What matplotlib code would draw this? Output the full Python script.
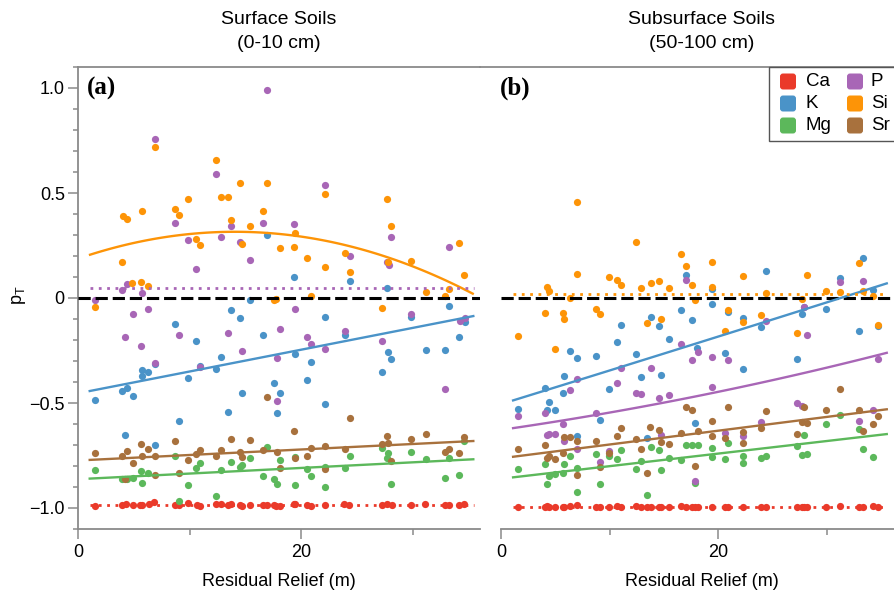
import numpy as np
import matplotlib
matplotlib.use("Agg")
import matplotlib.pyplot as plt
from matplotlib.patches import Rectangle, FancyBboxPatch
from matplotlib.ticker import FixedLocator, MultipleLocator

plt.rcParams['font.family'] = ['Liberation Sans', 'DejaVu Sans']
plt.rcParams['mathtext.fontset'] = 'custom'
plt.rcParams['mathtext.rm'] = 'Liberation Sans'
plt.rcParams['mathtext.it'] = 'Liberation Sans'

# ---------------- data ----------------
elements = ['Ca', 'K', 'Mg', 'P', 'Si', 'Sr']
colors = {'Ca': '#ea3a2a', 'K': '#4a93c8', 'Mg': '#5cb85b',
          'P': '#a866b6', 'Si': '#fd9407', 'Sr': '#a8713d'}

panel_titles = [('Surface Soils', '(0-10 cm)'), ('Subsurface Soils', '(50-100 cm)')]
panel_labels = ['(a)', '(b)']
xlabel = 'Residual Relief (m)'
ytick_vals = [-1.0, -0.5, 0.0, 0.5, 1.0]
ytick_labels = ['\u22121.0', '\u22120.5', '0', '0.5', '1.0']
xtick_vals = [0, 20]
xtick_labels = ['0', '20']

# Panel (a): surface soils
ca_a_x = [1.52, 3.98, 4.30, 4.90, 5.56, 5.77, 6.33, 6.85, 8.73, 9.06, 9.90, 10.64, 10.94,
          12.38, 12.82, 13.42, 13.72, 14.53, 14.74, 15.42, 16.59, 16.98, 17.58, 17.79, 18.11,
          19.34, 19.43, 20.57, 20.87, 22.18, 23.88, 24.34, 27.27, 27.68, 28.13, 29.84, 31.15,
          32.95, 33.27, 34.20, 34.60]
ca_a_y = [-0.992, -0.985, -0.983, -0.988, -0.984, -0.986, -0.980, -0.970, -0.986, -0.984, -0.975,
          -0.986, -0.990, -0.980, -0.982, -0.985, -0.983, -0.986, -0.990, -0.985, -0.984, -0.986,
          -0.988, -0.989, -0.990, -0.983, -0.982, -0.988, -0.990, -0.985, -0.982, -0.986, -0.988,
          -0.983, -0.984, -0.988, -0.983, -0.988, -0.987, -0.984, -0.982]
k_a = [(16.98, 0.302), (15.46, -0.010), (13.75, -0.057), (14.53, -0.097), (8.73, -0.122),
       (10.61, -0.203), (16.59, -0.178), (12.86, -0.279), (12.41, -0.337), (10.97, -0.324),
       (9.87, -0.381), (5.74, -0.343), (5.74, -0.371), (6.31, -0.351), (6.90, -0.316),
       (1.55, -0.487), (3.98, -0.441), (4.36, -0.430), (4.93, -0.467), (14.74, -0.451),
       (9.06, -0.587), (13.42, -0.544), (4.19, -0.651), (6.90, -0.702), (17.58, -0.403),
       (18.09, -0.454), (17.85, -0.548), (19.40, 0.102), (24.40, 0.081), (27.68, 0.049),
       (22.18, -0.089), (29.84, -0.089), (23.90, -0.178), (19.43, -0.265), (20.90, -0.303),
       (20.57, -0.390), (22.18, -0.506), (27.23, -0.352), (27.84, -0.256), (28.10, -0.290),
       (31.18, -0.249), (32.95, -0.249), (33.24, -0.038), (34.20, -0.187), (34.71, -0.113)]
mg_a = [(1.55, -0.819), (3.98, -0.863), (4.36, -0.863), (4.93, -0.859), (5.68, -0.824),
        (5.74, -0.879), (6.31, -0.832), (8.73, -0.752), (9.06, -0.965), (9.87, -0.892),
        (10.61, -0.808), (10.97, -0.784), (12.41, -0.944), (12.86, -0.817), (13.75, -0.783),
        (14.53, -0.803), (14.74, -0.795), (15.46, -0.762), (16.59, -0.846), (16.98, -0.710),
        (17.58, -0.863), (17.85, -0.887), (18.09, -0.770), (19.43, -0.756), (19.43, -0.892),
        (20.57, -0.816), (20.90, -0.846), (22.18, -0.806), (22.18, -0.900), (23.90, -0.811),
        (24.40, -0.751), (27.23, -0.716), (27.68, -0.760), (27.84, -0.740), (28.10, -0.886),
        (29.84, -0.733), (31.18, -0.767), (32.95, -0.857), (33.24, -0.762), (34.20, -0.843),
        (34.65, -0.681)]
p_a = [(16.95, 0.990), (6.90, 0.756), (12.38, 0.590), (8.73, 0.359), (9.87, 0.275),
       (10.61, 0.138), (12.86, 0.290), (13.75, 0.344), (14.53, 0.268), (15.46, 0.179),
       (16.59, 0.356), (4.36, 0.068), (3.98, 0.038), (5.74, 0.025), (1.55, -0.010),
       (4.93, -0.078), (6.31, -0.052), (4.19, -0.184), (5.68, -0.230), (6.90, -0.308),
       (9.06, -0.176), (10.97, -0.330), (13.42, -0.165), (14.74, -0.251), (18.09, -0.149),
       (17.85, -0.287), (17.85, -0.492), (22.18, 0.540), (19.40, 0.354), (24.40, 0.202),
       (27.74, 0.170), (27.86, 0.157), (28.10, 0.290), (33.24, 0.244), (19.43, -0.051),
       (20.57, -0.187), (20.90, -0.217), (22.18, -0.244), (23.90, -0.159), (27.23, -0.205),
       (29.84, -0.076), (32.95, -0.432), (34.30, -0.110), (34.71, -0.097)]
si_a = [(6.88, 0.717), (4.00, 0.392), (4.36, 0.375), (5.74, 0.416), (3.98, 0.170),
        (4.87, 0.070), (5.68, 0.075), (6.31, 0.059), (1.55, -0.044), (8.73, 0.424),
        (9.06, 0.394), (9.87, 0.473), (10.61, 0.279), (10.97, 0.252), (12.41, 0.656),
        (12.83, 0.483), (13.42, 0.483), (13.72, 0.373), (14.53, 0.548), (14.74, 0.257),
        (15.46, 0.344), (16.62, 0.416), (16.98, 0.549), (18.09, 0.240), (17.60, -0.010),
        (17.80, -0.006), (19.43, 0.311), (19.37, 0.244), (20.57, 0.192), (20.90, 0.011),
        (22.18, 0.497), (22.18, 0.149), (23.90, 0.216), (24.40, 0.124), (27.23, -0.049),
        (27.68, 0.471), (28.10, 0.341), (27.84, 0.170), (29.84, 0.178), (31.18, 0.027),
        (32.95, 0.010), (33.24, 0.044), (34.20, 0.260), (34.65, 0.108)]
sr_a = [(1.55, -0.737), (3.98, -0.754), (4.36, -0.727), (4.93, -0.786), (5.68, -0.697),
        (5.74, -0.751), (6.31, -0.717), (6.90, -0.752), (4.19, -0.863), (6.90, -0.843),
        (8.73, -0.681), (9.06, -0.833), (9.87, -0.771), (10.61, -0.741), (10.97, -0.724),
        (12.41, -0.752), (12.83, -0.722), (13.75, -0.670), (14.53, -0.732), (14.74, -0.759),
        (15.46, -0.676), (16.59, -0.722), (16.98, -0.470), (17.85, -0.732), (18.09, -0.811),
        (19.40, -0.635), (19.43, -0.762), (20.57, -0.754), (20.90, -0.714), (22.18, -0.705),
        (22.18, -0.816), (23.90, -0.717), (24.40, -0.573), (27.23, -0.695), (27.68, -0.656),
        (27.84, -0.692), (28.10, -0.778), (29.84, -0.670), (31.18, -0.648), (32.95, -0.735),
        (33.24, -0.721), (34.20, -0.740), (34.65, -0.660)]

# Panel (b): subsurface soils
ca_b_x = [1.60, 4.06, 4.24, 4.42, 4.98, 5.75, 5.81, 6.36, 6.97, 8.76, 9.12, 9.92, 10.69, 11.03,
          12.47, 12.87, 13.46, 13.80, 14.56, 14.78, 15.51, 16.62, 17.02, 17.63, 17.85, 18.16,
          19.48, 20.65, 20.95, 22.27, 23.93, 24.42, 27.31, 27.77, 27.93, 28.18, 29.92, 31.24,
          32.99, 33.33, 34.26, 34.72]
ca_b_y = [-0.996, -0.994, -0.992, -0.994, -0.995, -0.994, -0.993, -0.992, -0.988, -0.994,
          -0.993, -0.994, -0.992, -0.994, -0.991, -0.993, -0.994, -0.993, -0.995, -0.994,
          -0.995, -0.992, -0.993, -0.994, -0.995, -0.994, -0.993, -0.996, -0.995, -0.994,
          -0.996, -0.993, -0.995, -0.994, -0.993, -0.994, -0.995, -0.992, -0.995, -0.993,
          -0.990, -0.994]
k_b = [(17.02, 0.110), (16.62, -0.057), (17.63, -0.105), (13.80, -0.089), (14.56, -0.132),
       (11.03, -0.127), (10.69, -0.210), (15.51, -0.195), (6.36, -0.251), (6.97, -0.287),
       (8.76, -0.275), (12.47, -0.265), (12.87, -0.376), (14.78, -0.368), (5.81, -0.370),
       (9.92, -0.433), (4.06, -0.430), (5.75, -0.454), (4.42, -0.494), (4.98, -0.533),
       (4.24, -0.533), (1.60, -0.527), (9.12, -0.581), (6.97, -0.657), (13.46, -0.665),
       (17.85, -0.597), (33.33, 0.192), (31.24, 0.097), (24.42, 0.130), (19.48, 0.043),
       (34.26, 0.038), (19.48, -0.029), (20.95, -0.065), (22.27, -0.097), (23.93, -0.137),
       (27.77, -0.078), (27.93, -0.044), (29.92, -0.054), (18.10, -0.237), (20.65, -0.263),
       (22.27, -0.338), (27.31, -0.289), (32.99, -0.156), (34.72, -0.132)]
mg_b = [(17.02, -0.700), (17.63, -0.700), (13.80, -0.708), (14.56, -0.725), (11.03, -0.724),
        (10.69, -0.767), (9.92, -0.752), (8.76, -0.744), (6.36, -0.751), (12.87, -0.775),
        (12.47, -0.816), (15.51, -0.762), (16.62, -0.770), (14.78, -0.821), (1.60, -0.816),
        (4.06, -0.789), (5.81, -0.790), (6.97, -0.810), (4.42, -0.848), (4.98, -0.838),
        (5.75, -0.835), (4.24, -0.887), (6.97, -0.922), (9.12, -0.886), (13.46, -0.940),
        (17.85, -0.883), (31.24, -0.557), (29.92, -0.602), (32.99, -0.622), (27.93, -0.651),
        (27.31, -0.705), (27.77, -0.749), (28.18, -0.743), (18.16, -0.700), (19.48, -0.713),
        (19.48, -0.759), (20.65, -0.767), (20.95, -0.690), (22.27, -0.754), (22.27, -0.784),
        (23.93, -0.763), (24.42, -0.752), (33.33, -0.721), (34.26, -0.757)]
p_b = [(17.02, 0.086), (16.62, -0.219), (17.63, -0.295), (18.16, -0.256), (11.03, -0.332),
       (10.69, -0.406), (13.80, -0.332), (6.97, -0.384), (6.36, -0.437), (12.47, -0.452),
       (12.87, -0.456), (14.56, -0.478), (15.51, -0.463), (8.76, -0.548), (4.06, -0.546),
       (1.60, -0.563), (4.24, -0.652), (4.42, -0.648), (4.98, -0.648), (5.75, -0.598),
       (5.81, -0.681), (6.97, -0.721), (14.78, -0.652), (9.12, -0.781), (9.92, -0.729),
       (17.85, -0.871), (31.24, 0.078), (33.33, 0.081), (27.93, -0.041), (24.42, -0.108),
       (28.18, -0.175), (19.48, -0.279), (20.95, -0.295), (19.48, -0.422), (34.72, -0.290),
       (27.31, -0.500), (27.77, -0.514), (23.93, -0.590), (20.65, -0.644), (22.27, -0.656),
       (32.99, -0.587), (34.32, -0.533)]
si_b = [(6.97, 0.457), (6.97, 0.116), (4.24, 0.051), (4.42, 0.032), (12.47, 0.267),
        (9.92, 0.100), (10.69, 0.086), (11.03, 0.062), (12.87, 0.048), (13.80, 0.073),
        (14.56, 0.083), (15.51, 0.049), (16.62, 0.208), (17.02, 0.151), (17.63, 0.062),
        (17.85, -0.010), (6.36, 0.002), (1.60, -0.179), (4.06, -0.070), (5.75, -0.073),
        (5.81, -0.100), (4.98, -0.241), (8.76, -0.051), (9.12, -0.078), (13.46, -0.119),
        (14.78, -0.100), (19.48, 0.173), (19.48, 0.054), (22.27, 0.103), (24.42, 0.025),
        (28.20, 0.111), (29.92, 0.032), (31.24, 0.029), (32.99, 0.165), (33.33, 0.035),
        (34.32, 0.010), (20.95, -0.057), (22.27, -0.113), (20.65, -0.157), (23.93, -0.079),
        (27.31, -0.168), (27.77, -0.006), (34.72, -0.129)]
sr_b = [(17.02, -0.519), (17.63, -0.533), (13.76, -0.614), (14.56, -0.627), (11.03, -0.621),
        (10.69, -0.656), (12.47, -0.673), (8.76, -0.679), (5.81, -0.662), (6.36, -0.662),
        (6.97, -0.679), (4.06, -0.698), (1.60, -0.719), (12.87, -0.721), (14.78, -0.684),
        (15.51, -0.697), (16.62, -0.641), (4.42, -0.751), (4.98, -0.767), (4.24, -0.763),
        (5.75, -0.740), (9.92, -0.738), (9.12, -0.805), (6.97, -0.844), (13.46, -0.832),
        (17.85, -0.798), (18.16, -0.632), (31.24, -0.432), (20.95, -0.521), (24.42, -0.537),
        (19.48, -0.584), (19.48, -0.656), (20.65, -0.668), (22.27, -0.640), (22.27, -0.692),
        (23.93, -0.621), (27.31, -0.648), (27.77, -0.592), (28.18, -0.597), (27.93, -0.517),
        (29.92, -0.532), (32.99, -0.535), (33.33, -0.633), (34.26, -0.602), (34.72, -0.560)]

# Fitted trend curves, read as points along each curve (x, y)
fit_a = {'K': [(1.05, -0.443), (35.45, -0.086)],
         'Mg': [(1.05, -0.860), (35.45, -0.768)],
         'Sr': [(1.05, -0.771), (35.45, -0.681)],
         'Si': [(1.08, 0.205), (13.6, 0.319), (23.65, 0.252), (31.2, 0.125), (35.4, 0.022)]}
mean_a = {'P': 0.046, 'Ca': -0.987}
fit_b = {'K': [(1.11, -0.489), (8.94, -0.359), (18.16, -0.216), (35.55, 0.070)],
         'P': [(1.11, -0.619), (18.16, -0.470), (27.1, -0.362), (35.55, -0.263)],
         'Sr': [(1.11, -0.756), (35.55, -0.530)],
         'Mg': [(1.11, -0.854), (35.55, -0.648)]}
mean_b = {'Si': 0.019, 'Ca': -0.994}

# ---------------- figure ----------------
W, H = 895, 593
fig = plt.figure(figsize=(W / 100, H / 100), dpi=100)
top_px, bot_px = 67, 529
ax_a = fig.add_axes([78 / W, 1 - bot_px / H, (480 - 78) / W, (bot_px - top_px) / H])
ax_b = fig.add_axes([480 / W, 1 - bot_px / H, (W - 480) / W, (bot_px - top_px) / H])

spine_col = '#8a8a8a'


def pairs(lst):
    arr = np.array(lst)
    return arr[:, 0], arr[:, 1]


def style_axes(ax, xlim, show_left):
    ax.set_xlim(*xlim)
    ax.set_ylim(-1.1, 1.1)
    ax.spines['right'].set_visible(False)
    ax.spines['left'].set_visible(show_left)
    for s in ['left', 'top', 'bottom']:
        ax.spines[s].set_color(spine_col)
        ax.spines[s].set_linewidth(1.3)
    ax.spines['bottom'].set_bounds(0, xlim[1])
    ax.xaxis.set_major_locator(FixedLocator(xtick_vals))
    ax.set_xticklabels(xtick_labels)
    ax.xaxis.set_minor_locator(FixedLocator([10, 30]))
    ax.tick_params(axis='x', which='major', length=7.5, width=1.1, color=spine_col,
                   labelsize=13, pad=3)
    ax.tick_params(axis='x', which='minor', length=4.5, width=1.1, color=spine_col)
    if show_left:
        ax.yaxis.set_major_locator(FixedLocator(ytick_vals))
        ax.set_yticklabels(ytick_labels)
        ax.yaxis.set_minor_locator(MultipleLocator(0.1))
        ax.tick_params(axis='y', which='major', length=7.5, width=1.1, color=spine_col,
                       labelsize=13, pad=2)
        ax.tick_params(axis='y', which='minor', length=3.6, width=1.1, color=spine_col)
    else:
        ax.set_yticks([])
        ax.yaxis.set_minor_locator(FixedLocator([]))
    ax.patch.set_alpha(0)


style_axes(ax_a, (0, 36.05), True)
style_axes(ax_b, (-1.94, 36.31), False)

point_sets = [
    (ax_a, {'Ca': (ca_a_x, ca_a_y), 'K': pairs(k_a), 'Mg': pairs(mg_a),
            'P': pairs(p_a), 'Si': pairs(si_a), 'Sr': pairs(sr_a)}, fit_a, mean_a, 36.05),
    (ax_b, {'Ca': (ca_b_x, ca_b_y), 'K': pairs(k_b), 'Mg': pairs(mg_b),
            'P': pairs(p_b), 'Si': pairs(si_b), 'Sr': pairs(sr_b)}, fit_b, mean_b, 36.31),
]

for ax, pts, fits, means, xmax in point_sets:
    for el in elements:
        xs, ys = pts[el]
        ax.scatter(xs, ys, s=27, color=colors[el], linewidths=0, zorder=2)
    ax.plot([0, xmax], [0, 0], color='black', lw=2.2, dashes=(4, 1.6), zorder=3,
            solid_capstyle='butt')
    x0, x1 = 1.08, 35.5
    for el, p in fits.items():
        fx, fy = pairs(p)
        deg = 1 if len(p) == 2 else 2
        coef = np.polyfit(fx, fy, deg)
        xx = np.linspace(fx.min(), fx.max(), 100)
        ax.plot(xx, np.polyval(coef, xx), color=colors[el], lw=1.7, zorder=4)
    for el, m in means.items():
        ax.plot([x0, x1], [m, m], color=colors[el], lw=2.0, linestyle=(0, (1, 2)), zorder=4)

# titles
for (l1, l2), cx in zip(panel_titles, [279, 702]):
    fig.text(cx / W, 1 - 20 / H, l1, ha='center', va='center', fontsize=14)
    fig.text(cx / W, 1 - 43 / H, l2, ha='center', va='center', fontsize=14)

for lab, cx in zip([xlabel, xlabel], [279, 702]):
    fig.text(cx / W, 1 - 581 / H, lab, ha='center', va='center', fontsize=13)

for lab, lx in zip(panel_labels, [87, 500]):
    fig.text(lx / W, 1 - 88 / H, lab, ha='left', va='center', fontsize=18,
             fontfamily='Liberation Serif', fontweight='bold')

fig.text(19 / W, 1 - 295 / H, 'p$_{\\mathrm{T}}$', rotation=90, ha='center', va='center',
         fontsize=13)

# legend (drawn in a pixel-space overlay so it can run off the right edge like the original)
lax = fig.add_axes([0, 0, 1, 1], zorder=10)
lax.set_xlim(0, W)
lax.set_ylim(H, 0)
lax.axis('off')
lax.add_patch(Rectangle((769, 67), 140, 74, facecolor='white', edgecolor='#555555',
                        linewidth=1.0, clip_on=True))
for i, el in enumerate(elements):
    col, row = divmod(i, 3)
    left = 780 + 67 * col
    cy = 81.5 + 22 * row
    lax.add_patch(FancyBboxPatch((left + 3, cy - 5), 10, 10,
                                 boxstyle='round,pad=3', facecolor=colors[el],
                                 edgecolor='none'))
    lax.text(left + 26 - 2 * col, cy, el, ha='left', va='center', fontsize=13.5)

fig.savefig('out.png', dpi=100)
